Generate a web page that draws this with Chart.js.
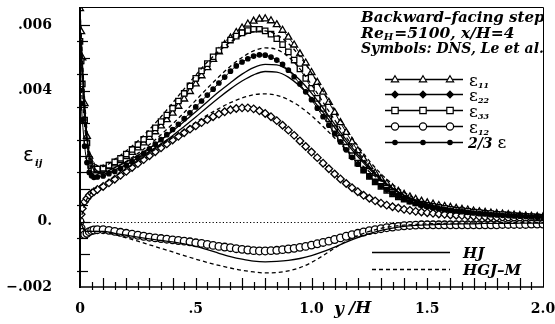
<!DOCTYPE html>
<html><head><meta charset="utf-8">
<script src="https://cdn.jsdelivr.net/npm/chart.js@4.4.1/dist/chart.umd.min.js"></script>
<style>html,body{margin:0;padding:0;background:#fff}canvas{display:block}</style>
</head><body>
<canvas id="c" width="555" height="324"></canvas>
<script>
// ---------- DATA ----------
// DNS abscissa y/H
const yH_DNS = [0,0.005,0.01,0.02,0.03,0.04,0.05,0.06,0.075,
 0.1,0.125,0.15,0.175,0.2,0.225,0.25,0.275,0.3,0.325,
 0.35,0.375,0.4,0.425,0.45,0.475,0.5,0.525,0.55,0.575,
 0.6,0.625,0.65,0.675,0.7,0.725,0.75,0.775,0.8,0.825,
 0.85,0.875,0.9,0.925,0.95,0.975,1.0,1.025,1.05,1.075,
 1.1,1.125,1.15,1.175,1.2,1.225,1.25,1.275,1.3,1.325,
 1.35,1.375,1.4,1.425,1.45,1.475,1.5,1.525,1.55,1.575,
 1.6,1.625,1.65,1.675,1.7,1.725,1.75,1.775,1.8,1.825,
 1.85,1.875,1.9,1.925,1.95,1.975,2.0];

const dns_e11 = [.0065,.0058,.0050,.0036,.0026,.0020,.0017,.00158,.00155,
 .00160,.00168,.00176,.00186,.00198,.00211,.00225,.00240,.00257,.00274,
 .00292,.00311,.00331,.00352,.00374,.00397,.00420,.00445,.00470,.00495,
 .00518,.00540,.00560,.00577,.00591,.00603,.00612,.00618,.00619,.00613,
 .00601,.00584,.00563,.00539,.00512,.00484,.00455,.00425,.00395,.00364,
 .00333,.00302,.00272,.00243,.00216,.00191,.00168,.00148,.00131,.00116,
 .00103,.00092,.00083,.00075,.00068,.00062,.00057,.00053,.00049,.00046,
 .00043,.00040,.00037,.00035,.00032,.00030,.00028,.00026,.00024,.00023,
 .00021,.00020,.00018,.00017,.00016,.00015,.00014];

const dns_e22 = [0,.00022,.0004,.0006,.0007,.0008,.00086,.00091,.00098,
 .00107,.00118,.00129,.00141,.00153,.00165,.00177,.00189,.00201,.00213,
 .00225,.00237,.00249,.00260,.00271,.00282,.00292,.00302,.00311,.00320,
 .00328,.00335,.00341,.00345,.00347,.00347,.00344,.00338,.00330,.00320,
 .00308,.00294,.00279,.00263,.00246,.00229,.00212,.00195,.00178,.00161,
 .00145,.00130,.00116,.00103,.00091,.00080,.00071,.00063,.00056,.00050,
 .00045,.00041,.00037,.00034,.00031,.00029,.00027,.00025,.00023,.00022,
 .00020,.00019,.00018,.00017,.00016,.00015,.00014,.00013,.00012,.00012,
 .00011,.00010,.00010,.00009,.00009,.00008,.00008];

const dns_e33 = [.0055,.0049,.0042,.0031,.0024,.0019,.0017,.0016,.0016,
 .00163,.00172,.00182,.00193,.00206,.00220,.00235,.00251,.00268,.00286,
 .00305,.00325,.00346,.00368,.00391,.00414,.00437,.00460,.00482,.00503,
 .00522,.00539,.00554,.00566,.00576,.00583,.00587,.00587,.00582,.00572,
 .00558,.00540,.00518,.00493,.00466,.00437,.00407,.00376,.00345,.00314,
 .00284,.00255,.00227,.00201,.00178,.00157,.00138,.00121,.00107,.00095,
 .00084,.00075,.00068,.00062,.00057,.00053,.00049,.00046,.00043,.00040,
 .00037,.00035,.00033,.00031,.00029,.00027,.00025,.00024,.00022,.00021,
 .00020,.00018,.00017,.00016,.00015,.00014,.00013];

const dns_e12 = [0,-.0002,-.00033,-.0004,-.00036,-.00031,-.00028,-.00026,-.00025,
 -.00025,-.00027,-.00030,-.00033,-.00036,-.00039,-.00042,-.00045,-.00048,-.00050,
 -.00052,-.00054,-.00056,-.00058,-.00060,-.00062,-.00065,-.00067,-.00070,-.00073,
 -.00076,-.00078,-.00080,-.00083,-.00085,-.00087,-.00089,-.00090,-.00090,-.00089,
 -.00088,-.00086,-.00084,-.00082,-.00079,-.00076,-.00072,-.00068,-.00064,-.00060,
 -.00055,-.00050,-.00045,-.00040,-.00036,-.00032,-.00028,-.00025,-.00022,-.00019,
 -.00017,-.00015,-.00013,-.00012,-.00011,-.00010,-.00010,-.00010,-.00010,-.00010,
 -.00010,-.00010,-.00010,-.00010,-.00010,-.00010,-.00010,-.00010,-.00010,-.00009,
 -.00009,-.00009,-.00009,-.00009,-.00008,-.00008,-.00008];

const dns_e2_3 = [.0040,.0036,.0031,.0023,.0018,.0015,.0014,.00135,.00136,
 .00139,.00146,.00153,.00162,.00172,.00183,.00195,.00208,.00222,.00236,
 .00250,.00265,.00281,.00297,.00314,.00332,.00350,.00368,.00386,.00404,
 .00423,.00441,.00459,.00475,.00487,.00497,.00505,.00509,.00508,.00502,
 .00493,.00480,.00462,.00442,.00420,.00396,.00372,.00346,.00320,.00294,
 .00268,.00243,.00219,.00196,.00175,.00156,.00138,.00122,.00108,.00096,
 .00085,.00076,.00068,.00061,.00055,.00050,.00046,.00042,.00039,.00036,
 .00034,.00032,.00030,.00028,.00026,.00024,.00023,.00021,.00020,.00019,
 .00018,.00017,.00016,.00015,.00014,.00013,.00012];

// model abscissa y/H
const yH_model = [0,0.025,0.05,
 0.1,0.15,0.2,0.25,0.3,0.35,0.4,0.45,0.5,0.55,
 0.6,0.65,0.7,0.75,0.8,0.85,0.9,0.95,1.0,1.05,
 1.1,1.15,1.2,1.25,1.3,1.35,1.4,1.45,1.5,1.55,
 1.6,1.65,1.7,1.75,1.8,1.85,1.9,1.95,2.0];

// HJ (solid)
const hj_a = [.0060,.0030,.0018,
 .0015,.00165,.00182,.00202,.00224,.00249,.00276,.00305,.00335,.00366,
 .00396,.00424,.00450,.00470,.00480,.00478,.00462,.00432,.00392,.00346,
 .00297,.00249,.00204,.00164,.00130,.00102,.00080,.00064,.00052,.00043,
 .00037,.00032,.00028,.00025,.00022,.00020,.00018,.00016,.00015];
const hj_b = [.0058,.0029,.0017,
 .00145,.00158,.00174,.00193,.00214,.00237,.00262,.00290,.00319,.00349,
 .00378,.00405,.00429,.00448,.00458,.00456,.00441,.00413,.00376,.00333,
 .00287,.00241,.00198,.00160,.00127,.00100,.00079,.00063,.00051,.00042,
 .00036,.00031,.00027,.00024,.00021,.00019,.00017,.00015,.00014];
const hj_12 = [0,-.0003,-.0003,
 -.0003,-.00036,-.00042,-.00048,-.00053,-.00058,-.00062,-.00068,-.00076,-.00086,
 -.00097,-.00107,-.00115,-.00121,-.00123,-.00122,-.00119,-.00113,-.00104,-.00092,
 -.00078,-.00063,-.00049,-.00037,-.00027,-.0002,-.00015,-.00012,-.0001,-.00009,
 -.00008,-.00007,-.00007,-.00006,-.00006,-.00006,-.00005,-.00005,-.00005];

// HGJ-M (dashed)
const hgj_a = [.0064,.0032,.0019,
 .00168,.00190,.00216,.00246,.00281,.00320,.00362,.00405,.00447,.00487,
 .00520,.00548,.00568,.00579,.00582,.00570,.00544,.00504,.00454,.00398,
 .00340,.00283,.00231,.00185,.00146,.00114,.00089,.00070,.00057,.00047,
 .00040,.00035,.00031,.00027,.00024,.00021,.00019,.00017,.00016];
const hgj_b = [.0045,.0026,.0016,
 .00148,.00164,.00184,.00208,.00235,.00265,.00298,.00333,.00370,.00407,
 .00442,.00474,.00501,.00521,.00530,.00525,.00503,.00466,.00418,.00364,
 .00310,.00258,.00210,.00168,.00133,.00105,.00082,.00065,.00053,.00044,
 .00038,.00033,.00029,.00026,.00023,.00020,.00018,.00016,.00015];
const hgj_22 = [0,.0006,.0009,
 .00115,.00137,.00160,.00184,.00208,.00232,.00256,.00280,.00303,.00325,
 .00345,.00363,.00377,.00387,.00390,.00385,.00372,.00351,.00323,.00290,
 .00255,.00219,.00184,.00152,.00124,.00100,.00080,.00064,.00052,.00043,
 .00036,.00031,.00027,.00024,.00021,.00019,.00017,.00015,.00013];
const hgj_12 = [0,-.0003,-.0003,
 -.00032,-.0004,-.0005,-.0006,-.00071,-.00082,-.00093,-.00104,-.00115,-.00125,
 -.00134,-.00142,-.00149,-.00154,-.00157,-.00156,-.00151,-.00141,-.00125,-.00104,
 -.00081,-.0006,-.00043,-.0003,-.00021,-.00015,-.00011,-.00009,-.00007,-.00006,
 -.00005,-.00005,-.00004,-.00004,-.00004,-.00003,-.00003,-.00003,-.00003];

// ticks
const xTickVals = [0, 0.5, 1.0, 1.5, 2.0];
const xTickLabels = ['0', '.5', '1.0', '1.5', '2.0'];
const yTickVals = [-0.002, 0, 0.002, 0.004, 0.006];
const yTickLabels = ['\u2212.002', '0.', '', '.004', '.006'];

// text
const titleLines = ['Backward\u2013facing step', 'Symbols: DNS, Le et al.'];
const legendDNS = ['11', '22', '33', '12'];
const legendModels = ['HJ', 'HGJ\u2013M'];

// ---------- CHART ----------
const pts = (xs, ys) => xs.map((x, i) => ({x: x, y: ys[i]}));
const SER = '"DejaVu Serif", serif';
const fBI = s => 'italic bold ' + s + 'px ' + SER;

function modelLine(data, dashed) {
  return {data: pts(yH_model, data), showLine: true, pointRadius: 0, borderColor: '#000',
    borderWidth: 1.3, borderDash: dashed ? [4, 3] : [], cubicInterpolationMode: 'monotone', fill: false};
}
function dnsSet(data, style, r, filled) {
  return {data: pts(yH_DNS, data), showLine: true, borderColor: '#000', borderWidth: 1,
    pointStyle: style, pointRadius: r, pointBorderWidth: 1.3, pointBorderColor: '#000',
    pointBackgroundColor: filled ? '#000' : '#fff', cubicInterpolationMode: 'monotone', fill: false};
}

function drawMarker(ctx, style, x, y, r, filled) {
  ctx.save();
  ctx.fillStyle = filled ? '#000' : '#fff';
  ctx.strokeStyle = '#000'; ctx.lineWidth = 1.2; ctx.setLineDash([]);
  ctx.beginPath();
  if (style === 'triangle') {
    ctx.moveTo(x, y - r); ctx.lineTo(x + r * 0.95, y + r * 0.6); ctx.lineTo(x - r * 0.95, y + r * 0.6); ctx.closePath();
  } else if (style === 'rectRot') {
    ctx.moveTo(x, y - r); ctx.lineTo(x + r, y); ctx.lineTo(x, y + r); ctx.lineTo(x - r, y); ctx.closePath();
  } else if (style === 'rect') {
    ctx.rect(x - r * 0.8, y - r * 0.8, r * 1.6, r * 1.6);
  } else {
    ctx.arc(x, y, r, 0, Math.PI * 2);
  }
  ctx.fill(); ctx.stroke();
  ctx.restore();
}

const decor = {
  id: 'decor',
  beforeDatasetsDraw(chart) {
    const {ctx, chartArea: a, scales: {y}} = chart;
    const y0 = Math.round(y.getPixelForValue(0)) + 0.5;
    ctx.save(); ctx.strokeStyle = '#000'; ctx.lineWidth = 1; ctx.setLineDash([1.2, 2.2]);
    ctx.beginPath(); ctx.moveTo(a.left, y0); ctx.lineTo(a.right, y0); ctx.stroke(); ctx.restore();
  },
  afterDraw(chart) {
    const {ctx, chartArea: a, scales: {x, y}} = chart;
    ctx.save();
    ctx.strokeStyle = '#000'; ctx.fillStyle = '#000';
    // frame
    ctx.lineWidth = 1;
    ctx.beginPath(); ctx.moveTo(a.left, a.top + 0.5); ctx.lineTo(a.right + 0.5, a.top + 0.5); ctx.lineTo(a.right + 0.5, a.bottom); ctx.stroke();
    ctx.lineWidth = 2;
    ctx.beginPath(); ctx.moveTo(a.left, a.top); ctx.lineTo(a.left, a.bottom + 1); ctx.stroke();
    ctx.lineWidth = 1.5;
    ctx.beginPath(); ctx.moveTo(a.left, a.bottom); ctx.lineTo(a.right + 1, a.bottom); ctx.stroke();
    // y ticks (inward, every 0.0005)
    ctx.lineWidth = 1.2;
    for (let k = -4; k <= 13; k++) {
      const py = Math.round(y.getPixelForValue(k * 0.0005)) + 0.5;
      if (py < a.top + 3 || py > a.bottom - 2) continue;
      ctx.beginPath();
      if (k % 2 === 0) { ctx.moveTo(a.left, py); ctx.lineTo(a.left + 10, py); }
      else { ctx.moveTo(a.left - 3, py); ctx.lineTo(a.left + 8, py); }
      ctx.stroke();
    }
    // x ticks (every 0.05)
    for (let k = 1; k < 40; k++) {
      const px = Math.round(x.getPixelForValue(k * 0.05)) + 0.5;
      ctx.beginPath(); ctx.moveTo(px, a.bottom + 3); ctx.lineTo(px, a.bottom - (k % 2 === 0 ? 9 : 5)); ctx.stroke();
    }
    // y axis title  eps_ij
    ctx.textBaseline = 'alphabetic'; ctx.textAlign = 'left';
    ctx.font = '20px "DejaVu Sans", sans-serif';
    ctx.fillText('\u03b5', 23, 161);
    ctx.font = fBI(10);
    ctx.fillText('ij', 35, 166);
    // x axis title y/H
    ctx.font = fBI(17);
    ctx.fillText('y', 334, 314);
    ctx.fillText('/H', 349, 313);

    // annotation block
    ctx.save();
    ctx.beginPath(); ctx.rect(a.left, a.top, a.right - a.left, a.bottom - a.top); ctx.clip();
    ctx.font = fBI(15);
    ctx.fillText(titleLines[0], 361, 22);
    let cx = 361;
    ctx.font = fBI(15.5);
    ctx.fillText('Re', cx, 37.5); cx += ctx.measureText('Re').width;
    ctx.font = fBI(10); ctx.fillText('H', cx, 40); cx += ctx.measureText('H').width + 1;
    ctx.font = fBI(15.5); ctx.fillText('=5100, x/H=4', cx, 37.5);
    ctx.font = fBI(14);
    ctx.fillText(titleLines[1], 361, 52.5);
    ctx.restore();

    // DNS legend
    const rows = [79, 94, 110, 126, 142];
    const styles = [['triangle', 3.8, false], ['rectRot', 3.3, true], ['rect', 4, false], ['circle', 3.6, false], ['circle', 2.2, true]];
    for (let i = 0; i < 5; i++) {
      const ry = rows[i] + 0.5;
      ctx.lineWidth = 1.3; ctx.setLineDash([]);
      ctx.beginPath(); ctx.moveTo(385, ry); ctx.lineTo(463, ry); ctx.stroke();
      for (const mx of [395, 423, 450]) drawMarker(ctx, styles[i][0], mx, ry, styles[i][1], styles[i][2]);
      ctx.fillStyle = '#000';
      if (i < 4) {
        ctx.font = '17px "DejaVu Serif", serif';
        ctx.fillText('\u03b5', 469, ry + 6);
        ctx.font = fBI(8);
        ctx.fillText(legendDNS[i], 478, ry + 8);
      } else {
        ctx.font = fBI(14);
        ctx.fillText('2/3', 468, ry + 5);
        const w = ctx.measureText('2/3 ').width;
        ctx.font = '17px "DejaVu Serif", serif';
        ctx.fillText('\u03b5', 468 + w, ry + 5);
      }
    }
    // model legend
    ctx.lineWidth = 1.3;
    ctx.setLineDash([]);
    ctx.beginPath(); ctx.moveTo(372, 252.5); ctx.lineTo(450, 252.5); ctx.stroke();
    ctx.setLineDash([4, 3]);
    ctx.beginPath(); ctx.moveTo(372, 269.5); ctx.lineTo(450, 269.5); ctx.stroke();
    ctx.setLineDash([]);
    ctx.font = fBI(15);
    ctx.fillText(legendModels[0], 463, 258);
    ctx.fillText(legendModels[1], 463, 275);
    ctx.restore();
  }
};

new Chart(document.getElementById('c'), {
  type: 'scatter',
  data: {
    datasets: [
      modelLine(hj_a, false), modelLine(hj_b, false), modelLine(hj_12, false),
      modelLine(hgj_a, true), modelLine(hgj_b, true), modelLine(hgj_22, true), modelLine(hgj_12, true),
      dnsSet(dns_e2_3, 'circle', 2.2, true),
      dnsSet(dns_e12, 'circle', 3.8, false),
      dnsSet(dns_e22, 'rectRot', 3.8, false),
      dnsSet(dns_e33, 'rect', 3.8, false),
      dnsSet(dns_e11, 'triangle', 4, false)
    ]
  },
  options: {
    responsive: false, animation: false, devicePixelRatio: 1,
    layout: {padding: {top: 7, right: 12, left: 0, bottom: 0}},
    plugins: {legend: {display: false}, tooltip: {enabled: false}},
    scales: {
      x: {
        type: 'linear', min: 0, max: 2.0,
        grid: {display: false, drawTicks: false}, border: {display: false},
        afterBuildTicks: s => { s.ticks = xTickVals.map(v => ({value: v})); },
        afterFit: s => { s.height = 37; s.paddingLeft = 0; s.paddingRight = 0; },
        ticks: {padding: 14, color: '#000', font: {family: '"DejaVu Serif", serif', weight: 'bold', size: 14},
          maxRotation: 0, autoSkip: false, callback: (v, i) => xTickLabels[i]}
      },
      y: {
        type: 'linear', min: -0.002, max: 0.00655,
        grid: {display: false, drawTicks: false}, border: {display: false},
        afterBuildTicks: s => { s.ticks = yTickVals.map(v => ({value: v})); },
        afterFit: s => { s.width = 80; s.paddingTop = 0; s.paddingBottom = 0; },
        ticks: {padding: 28, color: '#000', font: {family: '"DejaVu Serif", serif', weight: 'bold', size: 14},
          autoSkip: false, callback: (v, i) => yTickLabels[i]}
      }
    }
  },
  plugins: [decor]
});
</script>
</body></html>
